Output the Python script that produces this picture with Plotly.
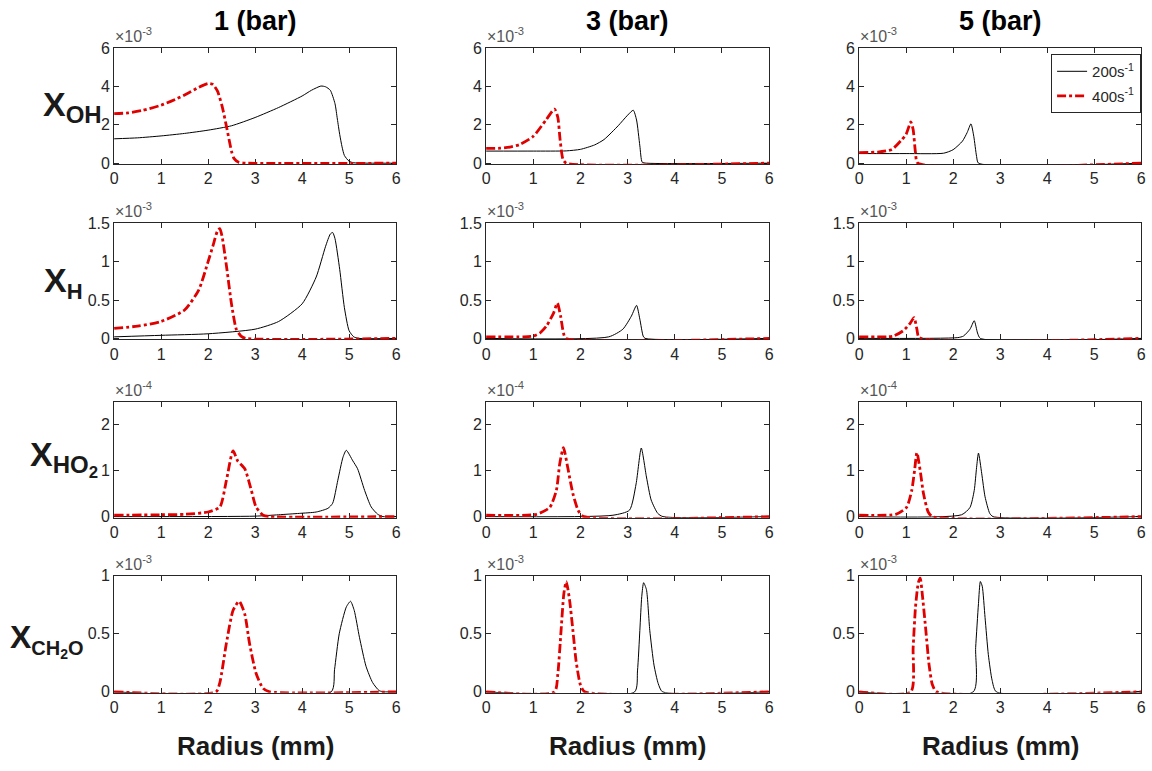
import plotly.graph_objects as go

# ---------------- data (values shown in axis units, see multipliers) ----------------
pressures = ["1 (bar)", "3 (bar)", "5 (bar)"]
species_main = ["X", "X", "X", "X"]
species_sub = ["OH", "H", "HO<sub>2</sub>", "CH<sub>2</sub>O"]
multipliers = ["-3", "-3", "-4", "-3"]
series_names = ["200s<sup>-1</sup>", "400s<sup>-1</sup>"]
x_ticks = [0, 1, 2, 3, 4, 5, 6]
y_tickvals = [[0, 2, 4, 6], [0, 0.5, 1, 1.5], [0, 1, 2], [0, 0.5, 1]]
y_ticktext = [["0", "2", "4", "6"], ["0", "0.5", "1", "1.5"], ["0", "1", "2"], ["0", "0.5", "1"]]
y_tops = [6, 1.5, 2.5, 1]

# OH
oh_1_200_x = [0, 0.5, 1, 1.5, 2, 2.5, 3, 3.5, 4, 4.2, 4.4, 4.5, 4.6, 4.7, 4.75, 4.8, 4.85, 4.9, 5.0, 5.1, 5.5, 6]
oh_1_200_y = [1.27, 1.32, 1.42, 1.55, 1.72, 1.95, 2.38, 2.9, 3.5, 3.8, 4.02, 3.98, 3.8, 3.1, 2.3, 1.5, 0.85, 0.4, 0.1, 0.02, 0, 0]
oh_1_400_x = [0, 0.3, 0.6, 1.0, 1.3, 1.6, 1.8, 2.0, 2.1, 2.2, 2.3, 2.4, 2.5, 2.55, 2.65, 2.8, 6]
oh_1_400_y = [2.58, 2.62, 2.75, 3.02, 3.32, 3.68, 3.95, 4.15, 4.1, 3.75, 2.95, 1.8, 0.6, 0.25, 0.05, 0, 0]
oh_3_200_x = [0, 1, 1.7, 2.0, 2.3, 2.5, 2.8, 3.0, 3.12, 3.19, 3.26, 3.31, 3.4, 6]
oh_3_200_y = [0.63, 0.63, 0.64, 0.72, 0.95, 1.23, 1.95, 2.5, 2.76, 2.25, 0.9, 0.05, 0, 0]
oh_3_400_x = [0, 0.3, 0.5, 0.71, 1.0, 1.27, 1.45, 1.52, 1.57, 1.63, 1.7, 6]
oh_3_400_y = [0.77, 0.78, 0.84, 0.97, 1.4, 2.25, 2.82, 2.4, 1.2, 0.2, 0, 0]
oh_5_200_x = [0, 1, 1.8, 2.0, 2.2, 2.3, 2.38, 2.44, 2.5, 2.54, 6]
oh_5_200_y = [0.5, 0.5, 0.52, 0.7, 1.15, 1.6, 2.05, 1.4, 0.35, 0, 0]
oh_5_400_x = [0, 0.4, 0.7, 0.9, 1.0, 1.1, 1.15, 1.2, 1.25, 6]
oh_5_400_y = [0.55, 0.58, 0.72, 1.2, 1.5, 2.15, 1.75, 0.55, 0, 0]

# H
h_1_200_x = [0, 1, 2, 3, 3.5, 4.0, 4.3, 4.5, 4.6, 4.65, 4.7, 4.8, 4.9, 5.0, 5.1, 5.2, 6]
h_1_200_y = [0.02, 0.04, 0.06, 0.12, 0.22, 0.45, 0.8, 1.2, 1.36, 1.38, 1.3, 0.9, 0.4, 0.1, 0.02, 0, 0]
h_1_400_x = [0, 0.5, 1.0, 1.5, 1.8, 2.0, 2.1, 2.2, 2.25, 2.3, 2.4, 2.5, 2.6, 2.7, 2.8, 6]
h_1_400_y = [0.13, 0.16, 0.22, 0.37, 0.63, 1.0, 1.2, 1.4, 1.43, 1.32, 0.9, 0.44, 0.12, 0.03, 0, 0]
h_3_200_x = [0, 2.6, 2.9, 3.08, 3.19, 3.26, 3.33, 3.37, 6]
h_3_200_y = [0, 0.02, 0.12, 0.29, 0.43, 0.25, 0.03, 0, 0]
h_3_400_x = [0, 0.8, 1.0, 1.14, 1.28, 1.43, 1.51, 1.58, 1.64, 1.69, 6]
h_3_400_y = [0.02, 0.02, 0.03, 0.07, 0.16, 0.33, 0.46, 0.29, 0.07, 0, 0]
h_5_200_x = [0, 2.1, 2.22, 2.36, 2.45, 2.52, 2.58, 6]
h_5_200_y = [0, 0.01, 0.03, 0.12, 0.23, 0.07, 0, 0]
h_5_400_x = [0, 0.6, 0.73, 0.94, 1.09, 1.17, 1.23, 1.28, 6]
h_5_400_y = [0.02, 0.02, 0.03, 0.1, 0.2, 0.27, 0.12, 0.01, 0]

# HO2
ho2_1_200_x = [0, 3.0, 3.5, 3.94, 4.3, 4.55, 4.65, 4.76, 4.87, 4.94, 5.08, 5.18, 5.33, 5.47, 5.61, 5.72, 6]
ho2_1_200_y = [0, 0.01, 0.04, 0.07, 0.1, 0.18, 0.29, 0.79, 1.29, 1.44, 1.21, 1.04, 0.57, 0.21, 0.05, 0, 0]
ho2_1_400_x = [0, 1.0, 1.5, 2.0, 2.25, 2.39, 2.53, 2.63, 2.78, 2.92, 3.02, 3.17, 3.31, 6]
ho2_1_400_y = [0.03, 0.04, 0.05, 0.1, 0.21, 0.79, 1.43, 1.21, 1.04, 0.57, 0.21, 0.03, 0, 0]
ho2_3_200_x = [0, 2.69, 3.04, 3.18, 3.29, 3.4, 3.5, 3.64, 3.75, 6]
ho2_3_200_y = [0, 0.03, 0.14, 0.71, 1.49, 0.86, 0.36, 0.07, 0, 0]
ho2_3_400_x = [0, 1.07, 1.35, 1.49, 1.56, 1.64, 1.73, 1.84, 1.95, 2.05, 6]
ho2_3_400_y = [0.03, 0.05, 0.2, 0.57, 1.14, 1.5, 1.07, 0.5, 0.14, 0.01, 0]
ho2_5_200_x = [0, 2.18, 2.36, 2.45, 2.5, 2.54, 2.61, 2.68, 2.78, 2.85, 6]
ho2_5_200_y = [0, 0.04, 0.2, 0.57, 1.07, 1.38, 0.93, 0.43, 0.07, 0, 0]
ho2_5_400_x = [0, 0.78, 1.01, 1.12, 1.18, 1.23, 1.3, 1.37, 1.47, 1.56, 6]
ho2_5_400_y = [0.03, 0.05, 0.2, 0.57, 1.0, 1.39, 1.0, 0.5, 0.1, 0, 0]

# CH2O
ch2o_1_200_x = [0, 4.62, 4.69, 4.79, 4.94, 5.03, 5.11, 5.22, 5.36, 5.5, 5.64, 5.75, 6]
ch2o_1_200_y = [0, 0, 0.19, 0.5, 0.73, 0.78, 0.7, 0.47, 0.22, 0.08, 0.01, 0, 0]
ch2o_1_400_x = [0, 2.17, 2.25, 2.39, 2.53, 2.66, 2.78, 2.88, 3.02, 3.17, 3.31, 6]
ch2o_1_400_y = [0, 0, 0.08, 0.42, 0.7, 0.78, 0.67, 0.42, 0.16, 0.03, 0, 0]
ch2o_3_200_x = [0, 3.15, 3.21, 3.26, 3.3, 3.34, 3.4, 3.47, 3.56, 3.65, 3.74, 6]
ch2o_3_200_y = [0, 0, 0.18, 0.53, 0.82, 0.94, 0.88, 0.53, 0.23, 0.07, 0, 0]
ch2o_3_400_x = [0, 1.45, 1.52, 1.59, 1.65, 1.7, 1.77, 1.84, 1.91, 2.0, 2.09, 6]
ch2o_3_400_y = [0, 0, 0.15, 0.53, 0.85, 0.95, 0.79, 0.53, 0.26, 0.06, 0, 0]
ch2o_5_200_x = [0, 2.43, 2.48, 2.54, 2.58, 2.62, 2.68, 2.75, 2.83, 2.92, 6]
ch2o_5_200_y = [0, 0, 0.38, 0.76, 0.95, 0.91, 0.64, 0.32, 0.1, 0, 0]
ch2o_5_400_x = [0, 1.1, 1.15, 1.2, 1.26, 1.3, 1.35, 1.42, 1.49, 1.56, 1.65, 6]
ch2o_5_400_y = [0, 0, 0.38, 0.73, 0.94, 0.98, 0.82, 0.53, 0.23, 0.06, 0, 0]

curves = [
    [(oh_1_200_x, oh_1_200_y, oh_1_400_x, oh_1_400_y),
     (oh_3_200_x, oh_3_200_y, oh_3_400_x, oh_3_400_y),
     (oh_5_200_x, oh_5_200_y, oh_5_400_x, oh_5_400_y)],
    [(h_1_200_x, h_1_200_y, h_1_400_x, h_1_400_y),
     (h_3_200_x, h_3_200_y, h_3_400_x, h_3_400_y),
     (h_5_200_x, h_5_200_y, h_5_400_x, h_5_400_y)],
    [(ho2_1_200_x, ho2_1_200_y, ho2_1_400_x, ho2_1_400_y),
     (ho2_3_200_x, ho2_3_200_y, ho2_3_400_x, ho2_3_400_y),
     (ho2_5_200_x, ho2_5_200_y, ho2_5_400_x, ho2_5_400_y)],
    [(ch2o_1_200_x, ch2o_1_200_y, ch2o_1_400_x, ch2o_1_400_y),
     (ch2o_3_200_x, ch2o_3_200_y, ch2o_3_400_x, ch2o_3_400_y),
     (ch2o_5_200_x, ch2o_5_200_y, ch2o_5_400_x, ch2o_5_400_y)],
]

# ---------------- layout ----------------
W, H = 1152, 771
# target positions in the photographed picture (pixels)
col_px = [(114, 396), (486, 769), (859, 1141)]
row_px = [(48, 164), (223, 339), (401, 517), (575, 692)]
FONT = "Liberation Sans Narrow, Arial Narrow, Liberation Sans, Arial, sans-serif"
AX = "#262626"
RED = "#e00000"

# measured mapping page -> photographed picture: pic = a + s * page
SX, AXOFF = 0.9922, 3.9
SY, AYOFF = 0.978, 8.0


def px(xp):
    return ((xp - AXOFF) / SX) / W


def py(yp):
    return 1 - ((yp - AYOFF) / SY) / H


fig = go.Figure()
layout = dict(
    width=W, height=H, margin=dict(l=0, r=0, t=0, b=0),
    paper_bgcolor="white", plot_bgcolor="white",
    font=dict(family=FONT, color=AX, size=16),
    showlegend=True,
)
annotations = []

for r in range(4):
    for c in range(3):
        k = r * 3 + c + 1
        xa = "xaxis" if k == 1 else f"xaxis{k}"
        ya = "yaxis" if k == 1 else f"yaxis{k}"
        xref = "x" if k == 1 else f"x{k}"
        yref = "y" if k == 1 else f"y{k}"
        x0, x1 = col_px[c]
        t0, b0 = row_px[r]
        layout[xa] = dict(
            domain=[px(x0), px(x1)], anchor=yref, range=[0, 6],
            tickvals=x_ticks, ticks="inside", ticklen=5, tickcolor=AX,
            showline=True, linecolor=AX, linewidth=1, mirror="ticks",
            showgrid=False, zeroline=False, layer="below traces",
            tickfont=dict(size=16, color=AX, family=FONT),
        )
        layout[ya] = dict(
            domain=[py(b0), py(t0)], anchor=xref,
            range=[-0.009 * y_tops[r], y_tops[r]],
            tickvals=y_tickvals[r], ticktext=y_ticktext[r],
            ticks="inside", ticklen=5, tickcolor=AX,
            showline=True, linecolor=AX, linewidth=1, mirror="ticks",
            showgrid=False, zeroline=False, layer="below traces",
            tickfont=dict(size=16, color=AX, family=FONT),
        )
        xb, yb, xr, yr = curves[r][c]
        show = (r == 0 and c == 2)
        fig.add_trace(go.Scatter(
            x=xb, y=yb, mode="lines", name=series_names[0], legendgroup="a",
            showlegend=show, xaxis=xref, yaxis=yref,
            line=dict(color="black", width=1, shape="spline", smoothing=0.6),
        ))
        fig.add_trace(go.Scatter(
            x=xr, y=yr, mode="lines", name=series_names[1], legendgroup="b",
            showlegend=show, xaxis=xref, yaxis=yref,
            line=dict(color=RED, width=2.8, shape="spline", smoothing=0.6,
                      dash="9px,3px,3px,3px"),
        ))
        # exponent label
        annotations.append(dict(
            text=f"×10<sup>{multipliers[r]}</sup>", xref="paper", yref="paper",
            x=px(x0 - 1), y=py(t0 - 1), xanchor="left", yanchor="bottom",
            showarrow=False, font=dict(size=16, color="#555555", family=FONT),
        ))

# column titles and x-axis titles
for c in range(3):
    x0, x1 = col_px[c]
    annotations.append(dict(
        text=f"<b>{pressures[c]}</b>", xref="paper", yref="paper",
        x=px((x0 + x1) / 2), y=py(21), xanchor="center", yanchor="middle",
        showarrow=False, font=dict(size=27, color="black", family=FONT),
    ))
    annotations.append(dict(
        text="<b>Radius (mm)</b>", xref="paper", yref="paper",
        x=px((x0 + x1) / 2), y=py(745), xanchor="center", yanchor="middle",
        showarrow=False, font=dict(size=26, color="#1a1a1a", family=FONT),
    ))

# row labels
label_pos = [(72, 106), (63, 282), (64, 458), (47, 640)]
main_sizes = [34, 34, 34, 32]
sub_sizes = [24, 22, 24, 20]
for r in range(4):
    lx, ly = label_pos[r]
    annotations.append(dict(
        text=f"<b>{species_main[r]}<sub><span style='font-size:{sub_sizes[r]}px'>{species_sub[r]}</span></sub></b>",
        xref="paper", yref="paper",
        x=px(lx), y=py(ly), xanchor="center", yanchor="middle",
        showarrow=False, font=dict(size=main_sizes[r], color="#1a1a1a", family=FONT),
    ))

layout["annotations"] = annotations
layout["legend"] = dict(
    x=px(1141), y=py(54), xanchor="right", yanchor="top",
    bgcolor="white", bordercolor=AX, borderwidth=1,
    font=dict(size=15, color=AX, family=FONT), tracegroupgap=2,
)
fig.update_layout(**layout)
fig.write_html(
    "out.html",
    config={"displayModeBar": False},
    post_script="document.body.style.margin='0';document.body.style.overflow='hidden';",
)
